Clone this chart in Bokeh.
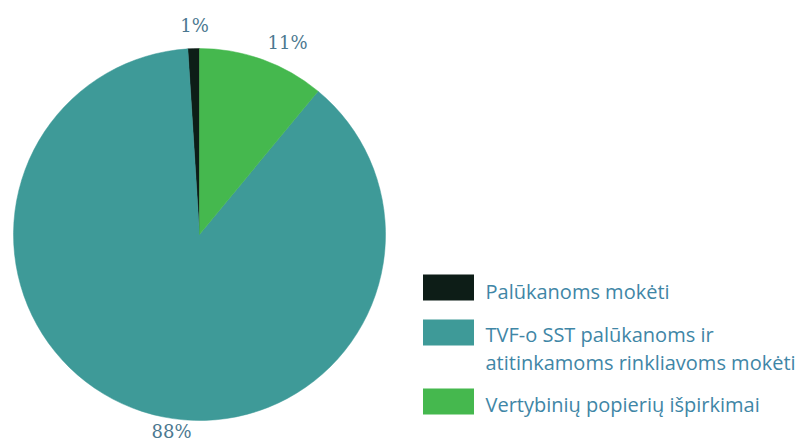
import numpy as np
from bokeh.plotting import figure
from bokeh.models import Range1d, ColumnDataSource
from bokeh.core.properties import value
from bokeh.embed import file_html
from bokeh.resources import INLINE

# ---- data ----
categories = ["Palūkanoms mokėti",
              "TVF-o SST palūkanoms ir\natitinkamoms rinkliavoms mokėti",
              "Vertybinių popierių išpirkimai"]
shares = [1, 88, 11]
pct_labels = ["1%", "88%", "11%"]
colors = ["#0d1d17", "#3e9a98", "#45b84e"]

W, H = 797, 441
def Y(img_y):
    return H - img_y

p = figure(width=W, height=H, output_backend="svg", toolbar_location=None,
           x_range=Range1d(0, W), y_range=Range1d(0, H),
           min_border=0, outline_line_color=None)
p.axis.visible = False
p.grid.visible = False
p.background_fill_color = "white"
p.border_fill_color = "white"

cx, cy, r = 199, Y(234), 186
frac = np.array(shares, dtype=float) / sum(shares)
ends = np.cumsum(frac) * 2 * np.pi
starts = np.concatenate([[0], ends[:-1]])
start_a = np.pi / 2 + starts
end_a = np.pi / 2 + ends
src = ColumnDataSource(dict(x=[cx] * 3, y=[cy] * 3, s=start_a, e=end_a, c=colors))
p.wedge(x="x", y="y", radius=r, start_angle="s", end_angle="e",
        fill_color="c", line_color="c", line_width=0.5, source=src)

# percentage labels (positions for each slice)
lab_x = [194, 171, 287]
lab_y = [Y(25), Y(431), Y(42)]
p.text(x=lab_x, y=lab_y, text=pct_labels, text_font=value("DejaVu Serif"),
       text_font_size="18px", text_color="#4b7890", text_align="center",
       text_baseline="middle")

# legend
sq_y = [Y(287), Y(332), Y(401)]
p.rect(x=[448] * 3, y=sq_y, width=51, height=26, fill_color=colors, line_color=None)
txt_lines_y = [[Y(291)], [Y(334), Y(362)], [Y(404)]]
lx, ly, lt = [], [], []
for cat, ys in zip(categories, txt_lines_y):
    for line, yy in zip(cat.split("\n"), ys):
        lx.append(485); ly.append(yy); lt.append(line)
p.text(x=lx, y=ly, text=lt, text_font=value("Open Sans"), text_font_size="20px",
       text_color="#3f86a6", text_align="left", text_baseline="middle")

open("out.html", "w").write(file_html(p, INLINE))
